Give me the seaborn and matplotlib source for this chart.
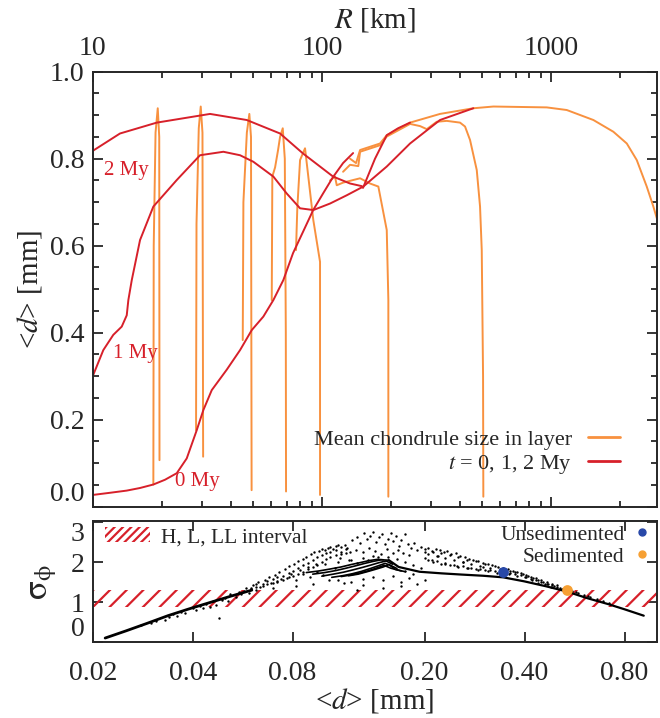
import matplotlib
matplotlib.use("Agg")
import numpy as np
import pandas as pd
import matplotlib.pyplot as plt
import seaborn as sns
from matplotlib.ticker import FixedLocator, NullFormatter, FuncFormatter, LogLocator, MultipleLocator, NullLocator
from matplotlib.lines import Line2D
from matplotlib.patches import Patch

# ---------------- data: upper panel (R [km] vs <d> [mm]) ----------------
# red curves: layer formed at t = 0, 1, 2 My
t0_R = [10, 11.9, 14.07, 16.08, 18.38, 20.67, 23.25, 25.7, 28.42, 30.36, 33.04, 38.41, 43.9, 49.37,
        55.46, 61.33, 67.8, 74.74, 82.63, 91.5, 101.0, 111.7, 123.5, 136.6]
t0_d = [0.027, 0.032, 0.037, 0.043, 0.051, 0.062, 0.077, 0.111, 0.176, 0.222, 0.268, 0.315, 0.36, 0.406,
        0.437, 0.475, 0.521, 0.583, 0.632, 0.682, 0.72, 0.758, 0.79, 0.813]
t1_R = [10, 11.12, 12.29, 13.38, 14.07, 14.3, 14.8, 16.08, 18.38, 23.25, 29.37, 37.13, 43.9, 50.17,
        61.33, 70.15, 80.19, 91.63, 108.4, 128.2, 151.3, 191.5, 242.0, 327.0, 456.9]
t1_d = [0.30, 0.36, 0.395, 0.414, 0.44, 0.475, 0.521, 0.613, 0.69, 0.751, 0.808, 0.816, 0.808, 0.793,
        0.759, 0.72, 0.686, 0.682, 0.697, 0.716, 0.736, 0.782, 0.835, 0.889, 0.916]
t2_R = [10, 13.15, 19.02, 32.48, 46.95, 65.6, 82.63, 111.7, 132.5, 149.0, 150.9, 170.2, 191.5, 214.5, 242.0]
t2_d = [0.818, 0.858, 0.883, 0.903, 0.889, 0.858, 0.812, 0.759, 0.743, 0.737, 0.733, 0.80, 0.854, 0.870, 0.883]

# orange curves: mean chondrule size in layer, one per body
b1_R = [18.38, 18.45, 18.79, 19.21, 19.5, 19.55]
b1_d = [0.051, 0.60, 0.86, 0.916, 0.85, 0.107]
b2_R = [28.22, 28.35, 29.0, 29.58, 30.1, 30.3]
b2_d = [0.176, 0.65, 0.87, 0.92, 0.86, 0.115]
b3_R = [45.1, 45.4, 47.0, 48.19, 49.0, 49.3]
b3_d = [0.383, 0.70, 0.86, 0.903, 0.85, 0.038]
b4_R = [60.35, 60.7, 62.4, 64.3, 65.6, 67.4, 68.8, 69.5, 69.66]
b4_d = [0.475, 0.759, 0.78, 0.82, 0.85, 0.87, 0.80, 0.40, 0.035]
b5_R = [77.0, 78.0, 80.2, 84.3, 87.5, 91.6, 98.0, 98.0]
b5_d = [0.59, 0.686, 0.797, 0.824, 0.75, 0.659, 0.563, 0.027]
b6_R = [108.4, 113.9, 115.9, 123.5, 136.6, 146.5, 161.9, 176.0, 191.5, 194.6, 194.6]
b6_d = [0.75, 0.759, 0.739, 0.745, 0.751, 0.755, 0.743, 0.736, 0.636, 0.475, 0.023]
b7_R = [123.5, 132.5, 143.9, 146.5, 179.0, 191.5, 242.0, 267.6, 286.2, 316.4, 349.9, 399.7, 420.3,
        442.0, 472.8, 488.7, 497.1, 503.7, 505.1]
b7_d = [0.77, 0.786, 0.783, 0.816, 0.831, 0.851, 0.88, 0.875, 0.868, 0.885, 0.887, 0.883, 0.874,
        0.843, 0.774, 0.69, 0.59, 0.30, 0.023]
b8_R = [132.5, 140.7, 146.5, 179.0, 191.5, 242.0, 327.0, 456.9, 558.5, 954.8, 1167, 1525, 1864,
        2133, 2357, 2606, 2785, 2929]
b8_d = [0.80, 0.79, 0.82, 0.835, 0.854, 0.883, 0.903, 0.916, 0.92, 0.918, 0.912, 0.889, 0.862,
        0.835, 0.797, 0.736, 0.69, 0.651]

time_labels = ["0 My", "1 My", "2 My"]
time_label_R = [28.6, 15.3, 13.95]
time_label_d = [0.057, 0.352, 0.774]

# ---------------- data: lower panel (<d> vs sigma_phi) ----------------
tail_d = [0.0218, 0.0252, 0.0292, 0.0337, 0.0390, 0.0451, 0.0522, 0.0603]
tail_s = [0.10, 0.28, 0.47, 0.66, 0.83, 0.99, 1.15, 1.30]
desc_d = [0.156, 0.167, 0.193, 0.225, 0.258, 0.30, 0.345, 0.399, 0.462, 0.534, 0.617, 0.714, 0.80, 0.914]
desc_s = [2.05, 1.88, 1.76, 1.72, 1.69, 1.66, 1.62, 1.52, 1.40, 1.27, 1.10, 0.95, 0.82, 0.66]
fan_a_d = [0.092, 0.100, 0.108, 0.116, 0.124, 0.132, 0.140, 0.148, 0.156]
fan_a_s = [1.70, 1.74, 1.79, 1.85, 1.91, 1.97, 2.02, 2.06, 2.05]
fan_b_d = [0.098, 0.106, 0.114, 0.122, 0.130, 0.138, 0.146, 0.153, 0.160]
fan_b_s = [1.65, 1.70, 1.75, 1.81, 1.87, 1.93, 1.99, 2.03, 1.95]
fan_c_d = [0.105, 0.113, 0.121, 0.129, 0.137, 0.145, 0.152, 0.158, 0.165]
fan_c_s = [1.62, 1.66, 1.71, 1.77, 1.84, 1.91, 1.97, 1.92, 1.84]
fan_d_d = [0.112, 0.120, 0.128, 0.136, 0.144, 0.151, 0.158, 0.170]
fan_d_s = [1.64, 1.68, 1.73, 1.79, 1.86, 1.92, 1.85, 1.78]
fan_e_d = [0.088, 0.096, 0.104, 0.112, 0.120, 0.128, 0.136, 0.144, 0.150]
fan_e_s = [1.74, 1.78, 1.83, 1.88, 1.94, 1.99, 2.04, 2.07, 2.06]
fan_f_d = [0.118, 0.126, 0.134, 0.142, 0.150, 0.156, 0.163, 0.175]
fan_f_s = [1.66, 1.70, 1.76, 1.82, 1.88, 1.94, 1.82, 1.76]

cloud_d = [0.028, 0.030, 0.031, 0.033, 0.034, 0.035, 0.036, 0.037, 0.038, 0.040, 0.041, 0.042, 0.043,
           0.044, 0.045, 0.046, 0.047, 0.048, 0.049, 0.050, 0.051, 0.052, 0.054, 0.055, 0.056, 0.057,
           0.058, 0.059, 0.062,
           0.061, 0.063, 0.064, 0.066, 0.068, 0.069, 0.071, 0.073, 0.074, 0.076, 0.078, 0.079, 0.081,
           0.083, 0.084, 0.086, 0.088, 0.089, 0.091, 0.093, 0.094, 0.096, 0.098, 0.100, 0.102, 0.104,
           0.106, 0.108, 0.110, 0.112, 0.115, 0.117, 0.119,
           0.072, 0.077, 0.082, 0.086, 0.090, 0.095, 0.099, 0.103, 0.107, 0.111, 0.114, 0.118, 0.082,
           0.070, 0.092,
           0.121, 0.125, 0.128, 0.131, 0.134, 0.137, 0.140, 0.143, 0.146, 0.149, 0.152, 0.155, 0.158,
           0.161, 0.164, 0.167, 0.170, 0.174, 0.178, 0.182, 0.186, 0.190, 0.124, 0.130, 0.136, 0.142,
           0.148, 0.154, 0.160, 0.166, 0.172, 0.180,
           0.195, 0.200, 0.205, 0.210, 0.216, 0.222, 0.228, 0.234, 0.240, 0.248, 0.256, 0.264, 0.272,
           0.280, 0.290, 0.300, 0.310, 0.320, 0.332, 0.344, 0.356, 0.368, 0.380, 0.395, 0.410, 0.425,
           0.440, 0.455, 0.470, 0.490, 0.510, 0.530, 0.555, 0.580, 0.605, 0.630, 0.660, 0.690, 0.720,
           0.21, 0.23, 0.25, 0.27, 0.29, 0.31, 0.33, 0.36, 0.40, 0.44, 0.48, 0.22, 0.26, 0.30, 0.35,
           0.38, 0.42, 0.46, 0.52, 0.57, 0.62,
           0.11, 0.12, 0.13, 0.14, 0.15, 0.16, 0.17, 0.18, 0.13, 0.15, 0.17, 0.19, 0.125, 0.20, 0.185,
           0.175, 0.10, 0.11, 0.12, 0.13, 0.14, 0.125, 0.135, 0.145, 0.155, 0.165, 0.175, 0.185, 0.195]
cloud_s = [0.42, 0.47, 0.52, 0.55, 0.63, 0.70, 0.66, 0.74, 0.72, 0.84, 0.80, 0.90, 0.86,
           0.95, 0.88, 1.02, 0.94, 0.60, 1.05, 1.10, 1.02, 1.20, 1.14, 1.25, 1.20, 1.28,
           1.35, 1.22, 1.30,
           1.42, 1.50, 1.38, 1.55, 1.62, 1.48, 1.68, 1.75, 1.58, 1.82, 1.90, 1.70, 1.96,
           2.02, 1.80, 2.08, 2.14, 1.88, 2.20, 2.25, 1.95, 2.28, 2.32, 2.30, 2.35, 2.38,
           2.34, 2.40, 2.42, 2.38, 2.44, 2.36, 2.25,
           1.50, 1.60, 1.55, 1.70, 1.62, 1.75, 1.68, 1.55, 1.85, 2.10, 1.48, 2.05, 1.40,
           1.35, 1.45,
           2.55, 2.62, 2.48, 2.72, 2.58, 2.66, 2.76, 2.50, 2.62, 2.70, 2.45, 2.58, 2.74,
           2.52, 2.66, 2.40, 2.55, 2.70, 2.45, 2.35, 2.48, 2.30, 2.30, 2.25, 2.35, 2.28,
           2.20, 2.32, 2.22, 2.30, 2.24, 2.18,
           2.38, 2.32, 2.36, 2.28, 2.34, 2.30, 2.25, 2.28, 2.20, 2.22, 2.15, 2.12, 2.08,
           2.05, 2.02, 1.98, 1.95, 1.92, 1.88, 1.85, 1.82, 1.78, 1.75, 1.70, 1.65, 1.60,
           1.55, 1.50, 1.46, 1.40, 1.36, 1.32, 1.28, 1.22, 1.18, 1.14, 1.08, 1.02, 0.97,
           2.05, 1.95, 1.90, 1.85, 1.80, 1.78, 1.72, 1.70, 1.62, 1.48, 1.38, 2.15, 2.00, 1.88, 1.76,
           1.66, 1.56, 1.45, 1.34, 1.25, 1.15,
           1.55, 1.50, 1.58, 1.62, 1.55, 1.65, 1.50, 1.60, 1.42, 1.35, 1.40, 1.45, 1.30, 1.55, 1.70,
           1.78, 1.95, 2.00, 2.05, 2.10, 2.15, 1.98, 2.05, 2.12, 2.14, 2.08, 2.00, 1.92, 1.85]

band_d = [0.200, 0.205, 0.212, 0.218, 0.224, 0.231, 0.238, 0.245, 0.252, 0.260, 0.268, 0.276, 0.285,
          0.294, 0.304, 0.314, 0.325, 0.337, 0.349, 0.362, 0.375, 0.389, 0.403, 0.418, 0.433, 0.449,
          0.466, 0.483, 0.500]
band_s1 = [2.25, 2.20, 2.26, 2.15, 2.22, 2.10, 2.18, 2.05, 2.12, 2.00, 2.06, 1.95, 2.02, 1.90, 1.96,
           1.86, 1.90, 1.82, 1.84, 1.78, 1.76, 1.72, 1.68, 1.64, 1.60, 1.56, 1.50, 1.46, 1.42]
band_s2 = [2.10, 2.05, 2.00, 2.02, 1.95, 1.98, 1.92, 1.94, 1.88, 1.90, 1.85, 1.86, 1.82, 1.84, 1.80,
           1.80, 1.77, 1.76, 1.74, 1.72, 1.70, 1.68, 1.62, 1.58, 1.55, 1.50, 1.45, 1.42, 1.38]
rise_d = [0.060, 0.062, 0.065, 0.067, 0.070, 0.072, 0.075, 0.078, 0.080, 0.083, 0.086, 0.089, 0.092,
          0.095, 0.098, 0.101, 0.104, 0.108, 0.112, 0.116]
rise_s1 = [1.36, 1.45, 1.46, 1.52, 1.58, 1.64, 1.66, 1.72, 1.78, 1.86, 1.92, 1.98, 2.05, 2.12, 2.18,
           2.22, 2.25, 2.30, 2.26, 2.32]
rise_s2 = [1.32, 1.38, 1.40, 1.45, 1.48, 1.52, 1.55, 1.62, 1.65, 1.70, 1.75, 1.82, 1.88, 1.92, 2.00,
           2.08, 2.12, 2.18, 2.20, 2.22]

unsed_d, unsed_s = [0.345], [1.75]
sed_d, sed_s = [0.538], [1.30]
hll_low, hll_high = 0.88, 1.30

R_ticks = [10, 100, 1000]
d_ticks = [0.02, 0.04, 0.08, 0.20, 0.40, 0.80]
d_tick_labels = ["0.02", "0.04", "0.08", "0.20", "0.40", "0.80"]

# ---------------- style ----------------
RED = "#d7202a"
ORANGE = "#f8913f"
BLUE = "#2848a8"
SEDORANGE = "#f6a033"

sns.set_style("ticks")
plt.rcParams["font.family"] = ["Liberation Serif", "DejaVu Serif"]
plt.rcParams["mathtext.fontset"] = "stix"
plt.rcParams["hatch.linewidth"] = 1.6
plt.rcParams["hatch.color"] = RED
plt.rcParams["axes.linewidth"] = 1.4

fig = plt.figure(figsize=(6.6, 7.18), dpi=100)
ax1 = fig.add_axes([0.1405, 0.2943, 0.8545, 0.6058])
ax2 = fig.add_axes([0.1405, 0.1058, 0.8545, 0.1685])

# ---------------- upper panel ----------------
ax1.set_xscale("log")
orange = pd.concat([
    pd.DataFrame({"R": r, "d": d, "curve": i})
    for i, (r, d) in enumerate([(b1_R, b1_d), (b2_R, b2_d), (b3_R, b3_d), (b4_R, b4_d),
                                (b5_R, b5_d), (b6_R, b6_d), (b7_R, b7_d), (b8_R, b8_d)])
])
red = pd.concat([
    pd.DataFrame({"R": r, "d": d, "curve": i})
    for i, (r, d) in enumerate([(t0_R, t0_d), (t1_R, t1_d), (t2_R, t2_d)])
])
sns.lineplot(data=orange, x="R", y="d", units="curve", estimator=None, sort=False,
             color=ORANGE, lw=1.4, ax=ax1, legend=False)
sns.lineplot(data=red, x="R", y="d", units="curve", estimator=None, sort=False,
             color=RED, lw=1.4, ax=ax1, legend=False)
for lab, rx, dy in zip(time_labels, time_label_R, time_label_d):
    ax1.text(rx, dy, lab, color=RED, fontsize=15, ha="center", va="center")

ax1.set_xlim(10, 2880)
ax1.set_ylim(0, 1.0)
ax1.xaxis.set_major_locator(FixedLocator(R_ticks))
ax1.xaxis.set_major_formatter(FuncFormatter(lambda v, p: f"{v:g}"))
ax1.xaxis.set_minor_locator(LogLocator(base=10, subs=np.arange(2, 10)))
ax1.xaxis.set_minor_formatter(NullFormatter())
ax1.yaxis.set_major_locator(FixedLocator([0.0, 0.2, 0.4, 0.6, 0.8, 1.0]))
ax1.yaxis.set_major_formatter(FuncFormatter(lambda v, p: f"{v:.1f}"))
ax1.yaxis.set_minor_locator(MultipleLocator(0.05))
ax1.tick_params(which="both", direction="in", top=True, bottom=True, left=True, right=True,
                labeltop=True, labelbottom=False, width=1.3)
ax1.tick_params(which="major", length=7, labelsize=20)
ax1.tick_params(which="minor", length=4)
ax1.tick_params(axis="x", which="major", pad=8)
ax1.tick_params(axis="y", which="major", pad=6)
ax1.xaxis.set_label_position("top")
ax1.set_xlabel("$R$ [km]", fontsize=21, labelpad=6)
ax1.set_ylabel("<$d$> [mm]", fontsize=21, labelpad=4)

h1 = [Line2D([], [], color=ORANGE, lw=2), Line2D([], [], color=RED, lw=2)]
ax1.legend(h1, ["Mean chondrule size in layer", "$t$ = 0, 1, 2 My"], loc="lower right",
           bbox_to_anchor=(0.935, 0.07), borderpad=0, borderaxespad=0, frameon=False,
           markerfirst=False, fontsize=16, handlelength=1.45, handletextpad=0.7,
           labelspacing=0.15)

# ---------------- lower panel ----------------
ax2.set_xscale("log")
ax2.axhspan(hll_low, hll_high, facecolor="none", edgecolor=RED, hatch="//", linewidth=0)
sns.lineplot(x=tail_d, y=tail_s, color="black", lw=2.0, sort=False, ax=ax2)
sns.lineplot(x=desc_d, y=desc_s, color="black", lw=1.6, sort=False, ax=ax2)
fan = pd.concat([
    pd.DataFrame({"d": d, "s": s, "arc": i})
    for i, (d, s) in enumerate([(fan_a_d, fan_a_s), (fan_b_d, fan_b_s), (fan_c_d, fan_c_s),
                                (fan_d_d, fan_d_s), (fan_e_d, fan_e_s), (fan_f_d, fan_f_s)])
])
sns.lineplot(data=fan, x="d", y="s", units="arc", estimator=None, sort=False,
             color="black", lw=1.2, ax=ax2, legend=False)
sns.scatterplot(x=cloud_d, y=cloud_s, color="black", s=3, linewidth=0, ax=ax2)
sns.scatterplot(x=band_d + band_d, y=band_s1 + band_s2, color="black", s=3, linewidth=0, ax=ax2)
sns.scatterplot(x=rise_d + rise_d, y=rise_s1 + rise_s2, color="black", s=3, linewidth=0, ax=ax2)
sns.scatterplot(x=unsed_d, y=unsed_s, color=BLUE, s=60, linewidth=0, ax=ax2, zorder=5)
sns.scatterplot(x=sed_d, y=sed_s, color=SEDORANGE, s=60, linewidth=0, ax=ax2, zorder=5)

ax2.set_xlim(0.02, 1.0)
ax2.set_ylim(0, 3.03)
ax2.xaxis.set_major_locator(FixedLocator(d_ticks))
ax2.xaxis.set_major_formatter(FuncFormatter(lambda v, p: d_tick_labels[d_ticks.index(min(d_ticks, key=lambda t: abs(t - v)))]))
ax2.xaxis.set_minor_locator(NullLocator())
ax2.yaxis.set_major_locator(FixedLocator([0, 1, 2, 3]))
ax2.yaxis.set_major_formatter(FuncFormatter(lambda v, p: f"{v:.0f}"))
ax2.tick_params(which="both", direction="in", top=True, bottom=True, left=True, right=True,
                width=1.3, length=7, labelsize=20)
ax2.tick_params(axis="x", pad=14)
ax2.tick_params(axis="y", pad=6)
ax2.set_xlabel("<$d$> [mm]", fontsize=21, labelpad=0)
ax2.set_ylabel(r"$\mathrm{\sigma}_{\mathrm{\phi}}$", fontsize=25, labelpad=8)

h2 = [Patch(facecolor="none", edgecolor=RED, hatch="////", linewidth=0)]
leg2 = ax2.legend(h2, ["H, L, LL interval"], loc="upper left", bbox_to_anchor=(0.022, 0.95),
                  borderpad=0, borderaxespad=0, frameon=False, fontsize=15.5,
                  handlelength=2.1, handleheight=0.7, handletextpad=0.5)
ax2.add_artist(leg2)
h3 = [Line2D([], [], color=BLUE, marker="o", ls="none", markersize=5),
      Line2D([], [], color=SEDORANGE, marker="o", ls="none", markersize=5)]
ax2.legend(h3, ["Unsedimented", "Sedimented"], loc="upper right", bbox_to_anchor=(0.985, 0.97),
           borderpad=0, borderaxespad=0, frameon=False, markerfirst=False, fontsize=15.5,
           handlelength=0.6, handletextpad=0.5, labelspacing=0.1)

# edge tick labels shifted inward like the reference
fig.canvas.draw()
for lab in ax1.get_yticklabels():
    if lab.get_text() == "0.0":
        lab.set_verticalalignment("bottom")
for lab in ax2.get_yticklabels():
    if lab.get_text() == "3":
        lab.set_verticalalignment("top")
    elif lab.get_text() == "0":
        lab.set_verticalalignment("bottom")

fig.savefig("out.png", dpi=100)
